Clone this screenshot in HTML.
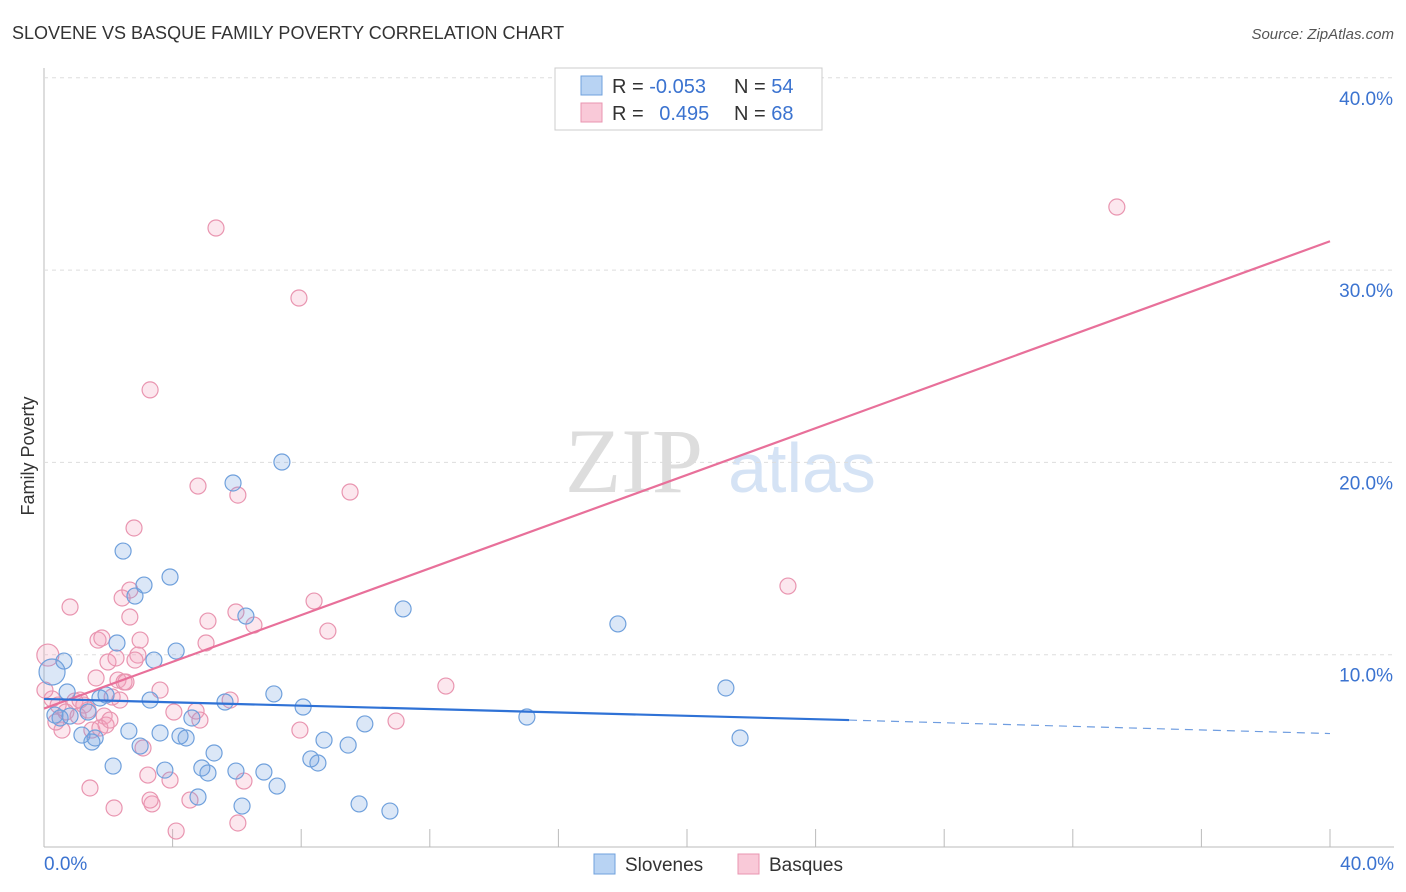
<!DOCTYPE html>
<html><head><meta charset="utf-8"><style>
body{margin:0;background:#fff;font-family:"Liberation Sans",sans-serif;}
#wrap{position:relative;width:1406px;height:892px;overflow:hidden;}
</style></head><body>
<div id="wrap">
<svg id="chart" width="1406" height="892" xmlns="http://www.w3.org/2000/svg">
<text x="12" y="39" font-size="18" fill="#333">SLOVENE VS BASQUE FAMILY POVERTY CORRELATION CHART</text>
<text x="1394" y="39" font-size="15" fill="#555" font-style="italic" text-anchor="end">Source: ZipAtlas.com</text>
<text x="634" y="492" font-size="92" fill="#ddd" font-family="Liberation Serif,serif" text-anchor="middle">ZIP</text>
<text x="802" y="492" font-size="70" fill="#d5e3f5" text-anchor="middle">atlas</text>
<text x="34" y="456" font-size="18" fill="#333" text-anchor="middle" transform="rotate(-90 34 456)">Family Poverty</text>
<g id="grid"></g><g id="marks"></g><g id="lines"></g>
<g>
<rect x="555" y="68" width="267" height="62" fill="#fff" stroke="#ccc"/>
<rect x="581" y="76" width="21" height="19" fill="#b8d3f3" stroke="#6fa0dc"/>
<rect x="581" y="103" width="21" height="19" fill="#f9c9d8" stroke="#e995b0"/>
<text x="612" y="93" font-size="20" fill="#333">R = <tspan fill="#3b73d0">-0.053</tspan></text>
<text x="734" y="93" font-size="20" fill="#333">N = <tspan fill="#3b73d0">54</tspan></text>
<text x="612" y="120" font-size="20" fill="#333">R = <tspan fill="#3b73d0" dx="10">0.495</tspan></text>
<text x="734" y="120" font-size="20" fill="#333">N = <tspan fill="#3b73d0">68</tspan></text>
</g>
<g>
<rect x="594" y="854" width="21" height="20" fill="#b8d3f3" stroke="#6fa0dc"/>
<text x="625" y="871" font-size="19" fill="#333">Slovenes</text>
<rect x="738" y="854" width="21" height="20" fill="#f9c9d8" stroke="#e995b0"/>
<text x="769" y="871" font-size="19" fill="#333">Basques</text>
</g>
</svg>
</div>
<script>
const xTicks=[0,4,8,12,16,20,24,28,32,36,40];
const yTicks=[10,20,30,40];
const sloveneX=[0.62,0.25,0.72,0.34,0.5,1.18,1.49,1.37,1.74,1.93,2.15,2.27,2.46,2.64,2.83,3.11,3.3,3.42,3.61,3.76,3.92,4.11,4.23,4.42,4.6,4.79,4.91,5.1,5.29,5.63,5.88,5.97,6.16,6.28,6.84,7.15,7.25,7.4,8.06,8.3,8.52,8.71,9.46,9.8,9.98,10.76,11.17,15.02,17.85,21.21,21.65,0.81,1.59,2.99];
const sloveneY=[9.67,9.1,8.06,6.86,6.71,5.82,5.46,7.02,7.75,7.9,4.21,10.61,15.39,6.03,13.05,13.62,7.64,9.72,5.93,4.0,14.04,10.19,5.77,5.67,6.71,2.6,4.11,3.85,4.89,7.54,18.93,3.95,2.13,12.01,3.9,7.96,3.17,20.02,7.28,4.58,4.37,5.56,5.3,2.24,6.4,1.87,12.38,6.76,11.6,8.27,5.67,6.81,5.67,5.25];
const basqueX=[0.12,0.25,0.44,0.56,0.68,0.81,0.96,1.06,1.24,1.37,1.43,1.62,1.68,1.8,1.87,1.93,1.99,2.12,2.18,2.24,2.3,2.43,2.49,2.55,2.67,2.8,2.92,2.99,3.08,3.23,3.36,3.92,4.11,4.04,4.54,4.73,4.79,5.04,5.1,5.35,5.79,5.97,6.03,6.03,6.22,6.53,7.93,7.96,8.4,8.83,9.52,10.95,12.5,23.14,33.37,3.3,1.12,1.49,0.03,0.37,1.74,3.61,4.85,2.36,2.83,3.3,2.05,2.67];
const basqueY=[9.98,7.7,7.38,6.08,7.02,12.48,7.59,6.81,7.38,7.12,3.07,8.79,10.76,10.87,6.81,6.34,9.62,7.8,2.03,9.83,8.68,12.95,8.58,8.58,11.96,16.59,9.98,10.76,5.15,3.74,2.24,3.48,0.83,7.02,2.44,7.07,18.77,10.61,11.75,32.19,7.64,12.22,18.3,1.25,3.43,11.54,28.55,6.08,12.79,11.23,18.46,6.55,8.37,13.57,33.28,23.77,7.64,6.08,8.16,6.5,6.19,8.16,6.6,7.64,9.72,2.44,6.6,13.36];
const basqueTrend=[0,7.2,40,31.5];
const sloveneTrend=[0,7.7,25.04,6.6,40,5.9];
const NS="http://www.w3.org/2000/svg";
const xs=v=>44+v*32.15, ys=v=>847-v*19.23;
function mk(tag,attrs,parent){const e=document.createElementNS(NS,tag);for(const k in attrs)e.setAttribute(k,attrs[k]);parent.appendChild(e);return e;}
const grid=document.getElementById('grid'),marks=document.getElementById('marks'),lines=document.getElementById('lines');
let e=mk('line',{x1:44,y1:68,x2:44,y2:847,stroke:'#bbb'},grid);


e=mk('line',{x1:44,y1:847,x2:1394,y2:847,stroke:'#bbb'},grid);


yTicks.forEach(t=>{
 const g=mk('line',{x1:44,y1:ys(t),x2:1394,y2:ys(t),stroke:'#ddd','stroke-dasharray':'4 4'},grid);
 
 
 const l=mk('text',{x:1393,y:ys(t)+27,'font-size':19,fill:'#3b73d0','text-anchor':'end'},grid);
 l.textContent=t.toFixed(1)+'%';
 
 
});
xTicks.forEach((t,i)=>{
 const tk=mk('line',{x1:xs(t),y1:829,x2:xs(t),y2:847,stroke:'#bbb'},grid);
 
 
});
[[0,'start',44],[40,'end',1394]].forEach(([t,a,x])=>{
 const l=mk('text',{x:x,y:870,'font-size':19,fill:'#3b73d0','text-anchor':a},grid);
 l.textContent=t.toFixed(1)+'%';
 
 
});
basqueX.forEach((v,i)=>{
 const c=mk('circle',{cx:xs(v),cy:ys(basqueY[i]),r:i==0?11:8,fill:'rgba(244,160,188,0.25)',stroke:'#e995b0','stroke-width':1.2},marks);
 
 
});
sloveneX.forEach((v,i)=>{
 const c=mk('circle',{cx:xs(v),cy:ys(sloveneY[i]),r:i==1?13:8,fill:'rgba(110,160,225,0.25)',stroke:'#6fa0dc','stroke-width':1.2},marks);
 
 
});
let t=mk('line',{x1:xs(basqueTrend[0]),y1:ys(basqueTrend[1]),x2:xs(basqueTrend[2]),y2:ys(basqueTrend[3]),stroke:'#e8709a','stroke-width':2.2},lines);


t=mk('line',{x1:xs(sloveneTrend[0]),y1:ys(sloveneTrend[1]),x2:xs(sloveneTrend[2]),y2:ys(sloveneTrend[3]),stroke:'#2f72d6','stroke-width':2.2},lines);


t=mk('line',{x1:xs(sloveneTrend[2]),y1:ys(sloveneTrend[3]),x2:xs(sloveneTrend[4]),y2:ys(sloveneTrend[5]),stroke:'#6f9de0','stroke-width':1.2,'stroke-dasharray':'8 6'},lines);


</script>
</body></html>
